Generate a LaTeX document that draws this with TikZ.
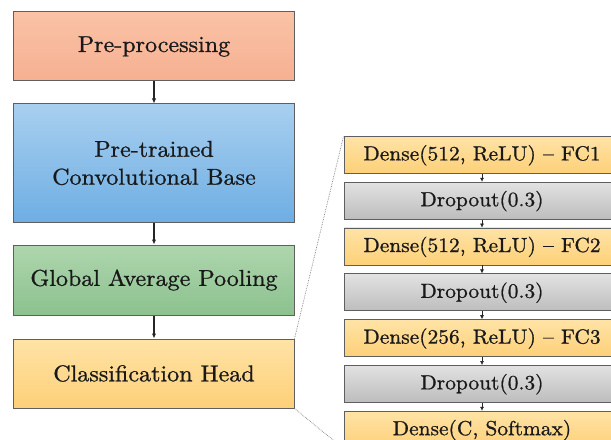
\documentclass[tikz,border=0pt]{standalone}
\usepackage{fontspec}
\newfontfamily\labelface{lmroman10-regular.otf}[Ligatures=TeX, FakeStretch=1.05, FakeBold=0.9]
\usetikzlibrary{positioning, arrows.meta}

\definecolor{prepTop}{HTML}{FAC2A6}
\definecolor{prepBot}{HTML}{F6B092}
\definecolor{baseTop}{HTML}{A9CFEF}
\definecolor{baseBot}{HTML}{6EAEE3}
\definecolor{poolTop}{HTML}{AFD6AE}
\definecolor{poolBot}{HTML}{8CC18E}
\definecolor{headTop}{HTML}{FFE3A6}
\definecolor{headBot}{HTML}{FDD078}
\definecolor{dropTop}{HTML}{E2E2E2}
\definecolor{dropBot}{HTML}{BDBDBD}
\definecolor{frameGray}{HTML}{5F5F5F}

% classifier head, top to bottom
\newcommand{\HeadLayers}{{Dense(512, ReLU) -- FC1}/dense layer,
  {Dropout(0.3)}/drop layer,
  {Dense(512, ReLU) -- FC2}/dense layer,
  {Dropout(0.3)}/drop layer,
  {Dense(256, ReLU) -- FC3}/dense layer,
  {Dropout(0.3)}/drop layer,
  {Dense(C, Softmax)}/dense layer}

\begin{document}
\begin{tikzpicture}[
	x=1bp, y=1bp,
	stage/.style={
		draw=frameGray,
		line width=1bp,
		minimum width=280bp,
		align=center,
		font=\labelface\fontsize{23}{28}\selectfont,
		text=black!90
	},
	prep box/.style={stage, top color=prepTop, bottom color=prepBot, minimum height=69bp},
	base box/.style={stage, top color=baseTop, bottom color=baseBot, minimum height=118bp},
	pool box/.style={stage, top color=poolTop, bottom color=poolBot, minimum height=70bp},
	head box/.style={stage, top color=headTop, bottom color=headBot, minimum height=69bp},
	layer/.style={
		draw=frameGray,
		line width=0.8bp,
		minimum width=276bp,
		minimum height=37bp,
		text height=15bp,
		text depth=4bp,
		font=\labelface\fontsize{20.5}{25}\selectfont,
		text=black!90,
		node distance=8bp
	},
	dense layer/.style={layer, top color=headTop, bottom color=headBot},
	drop layer/.style={layer, top color=dropTop, bottom color=dropBot},
	flow/.style={-{Latex[length=5bp,width=4.5bp]}, line width=1.1bp, black!85},
	zoom line/.style={densely dotted, gray, line width=0.7bp}
]
	\clip (0,0) rectangle (611,-440);
	\fill[white] (0,0) rectangle (611,-440);

	% main pipeline
	\node[prep box] (prep) at (154,-46.5) {Pre-processing};
	\node[base box, below=22bp of prep] (base) {Pre-trained\\Convolutional Base};
	\node[pool box, below=22bp of base] (pool) {Global Average Pooling};
	\node[head box, below=23bp of pool] (head) {Classification Head};

	\draw[flow] (prep) -- (base);
	\draw[flow] (base) -- (pool);
	\draw[flow] (pool) -- (head);

	% expanded head
	\coordinate (layer 0) at (482,-136);
	\foreach \l/\s [count=\p from 1, remember=\p as \prevP (initially 0)] in \HeadLayers {
		\ifnum\p=1
			\node[\s, below=0pt of layer 0] (layer \p) {\l};
		\else
			\node[\s, below=of layer \prevP] (layer \p) {\l};
			\draw[-{Latex[length=4bp,width=4bp]}, line width=0.6bp, black!85] (layer \prevP) -- (layer \p);
		\fi
	}

	\draw[zoom line] (head.north east) -- (layer 1.north west);
	\draw[zoom line] (head.south east) -- (layer 7.south west);
\end{tikzpicture}
\end{document}
